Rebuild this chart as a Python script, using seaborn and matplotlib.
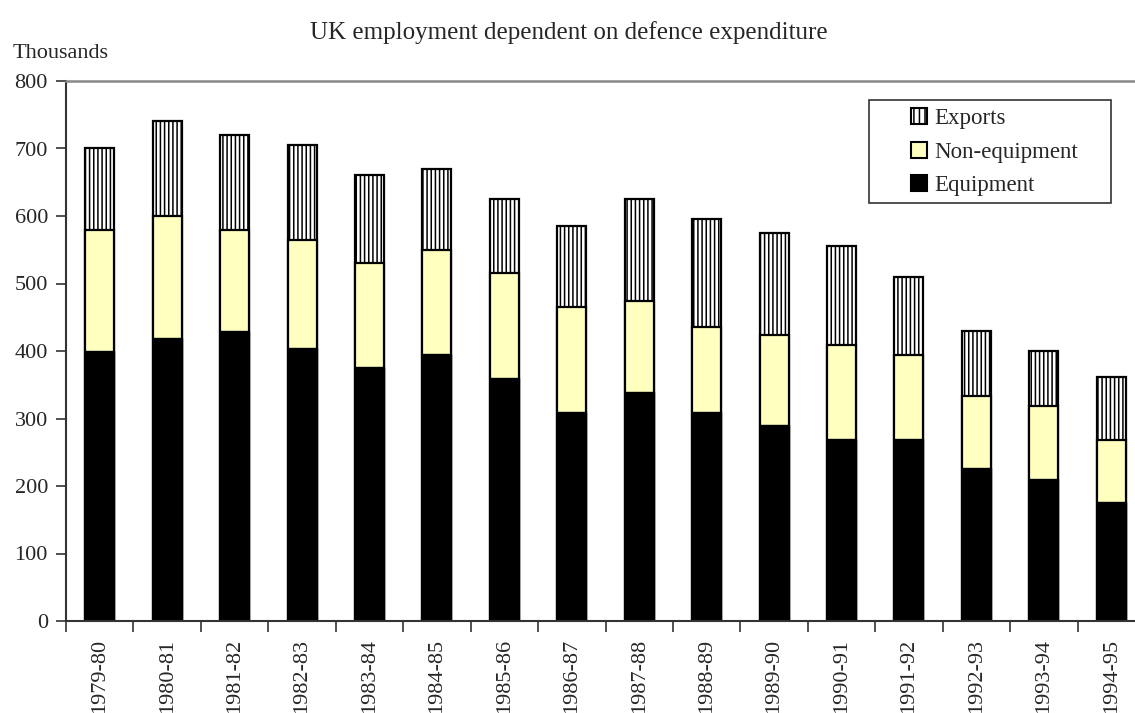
import matplotlib
matplotlib.use("Agg")
import matplotlib.pyplot as plt
from matplotlib.patches import Patch, Rectangle
import seaborn as sns

years = ["1979-80", "1980-81", "1981-82", "1982-83", "1983-84", "1984-85",
         "1985-86", "1986-87", "1987-88", "1988-89", "1989-90", "1990-91",
         "1991-92", "1992-93", "1993-94", "1994-95"]
equipment = [400, 420, 430, 405, 376, 396, 360, 310, 340, 310, 290, 270, 270, 226, 211, 176]
non_equipment = [180, 180, 150, 160, 154, 154, 155, 155, 134, 125, 134, 139, 124, 108, 108, 92]
exports = [120, 140, 140, 140, 130, 120, 110, 120, 151, 160, 151, 146, 116, 96, 81, 93]

sns.set_theme(style="white")
plt.rcParams["font.family"] = ["Liberation Serif", "DejaVu Serif"]
plt.rcParams["hatch.linewidth"] = 1.1
plt.rcParams["hatch.color"] = "black"

cum_non = [e + n for e, n in zip(equipment, non_equipment)]
total = [c + x for c, x in zip(cum_non, exports)]

fig = plt.figure(figsize=(11.35, 7.13), dpi=100)
ax = fig.add_axes([66 / 1135, 1 - 621 / 713, 1079 / 1135, 540 / 713])

bw = 0.43
sns.barplot(x=years, y=total, color="white", width=bw, edgecolor="black",
            linewidth=1.6, hatch="||||", saturation=1, ax=ax)
sns.barplot(x=years, y=cum_non, color="#FFFFC0", width=bw, edgecolor="black",
            linewidth=1.6, saturation=1, ax=ax)
sns.barplot(x=years, y=equipment, color="black", width=bw, edgecolor="black",
            linewidth=1.0, saturation=1, ax=ax)

ax.set_ylim(0, 800)
ax.set_xlim(-0.5, len(years) - 0.5)
ax.set_yticks(range(0, 801, 100))
ax.set_xticks([i - 0.5 for i in range(len(years) + 1)], minor=False)
ax.set_xticklabels([""] * (len(years) + 1))
ax.set_xticks(range(len(years)), minor=True)
ax.set_xticklabels(years, minor=True, rotation=90, fontsize=16)
ax.tick_params(axis="x", which="major", direction="out", length=8, width=1.2,
               color="#333333", bottom=True)
ax.tick_params(axis="x", which="minor", length=0, pad=13)
ax.tick_params(axis="y", direction="out", length=7, width=1.2, color="#333333",
               labelsize=16, pad=6, left=True)
ax.set_xlabel("")
ax.set_ylabel("")

ax.spines["left"].set_color("#333333")
ax.spines["left"].set_linewidth(1.5)
ax.spines["bottom"].set_color("#333333")
ax.spines["bottom"].set_linewidth(1.5)
ax.spines["top"].set_color("#888888")
ax.spines["top"].set_linewidth(1.8)
ax.spines["right"].set_visible(False)

# legend frame
fig.patches.append(Rectangle((869 / 1135, 1 - 203 / 713), (1111 - 869) / 1135, 103 / 713,
                             transform=fig.transFigure, facecolor="white",
                             edgecolor="#333333", linewidth=1.2, zorder=5))

handles = [
    Patch(facecolor="white", edgecolor="black", hatch="|||", linewidth=1.5, label="Exports"),
    Patch(facecolor="#FFFFC0", edgecolor="black", linewidth=1.5, label="Non-equipment"),
    Patch(facecolor="black", edgecolor="black", linewidth=1.5, label="Equipment"),
]
leg = fig.legend(handles=handles, loc="upper left",
                 bbox_to_anchor=(911 / 1135, 1 - 108 / 713),
                 bbox_transform=fig.transFigure, fontsize=16.5, frameon=False,
                 handlelength=0.7, handleheight=0.7,
                 handletextpad=0.3, borderpad=0, labelspacing=0.55,
                 borderaxespad=0)
leg.set_zorder(6)

fig.text(569 / 1135, 1 - 33 / 713,
         "UK employment dependent on defence expenditure",
         ha="center", va="center", fontsize=18)
fig.text(13 / 1135, 1 - 53 / 713, "Thousands", ha="left", va="center", fontsize=16)

fig.savefig("out.png", dpi=100)
